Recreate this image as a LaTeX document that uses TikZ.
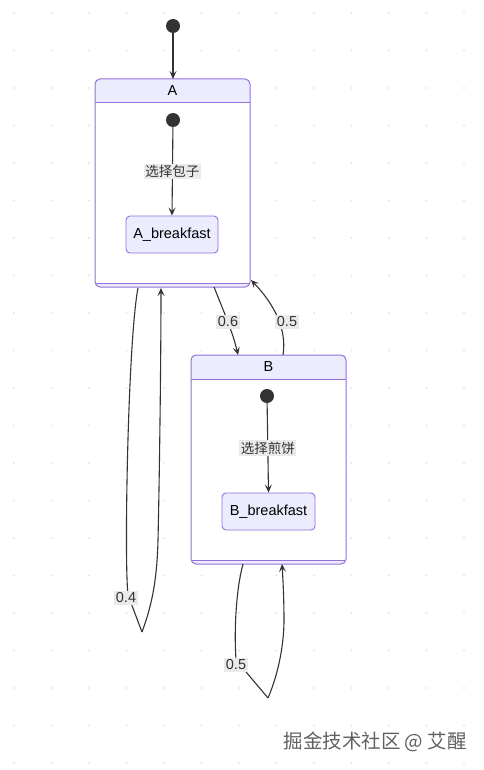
\documentclass[tikz,border=0pt]{standalone}
\usepackage{fontspec}
\setmainfont{Liberation Sans}
\newfontfamily\cjk{Noto Sans CJK SC}
\usetikzlibrary{arrows.meta,calc}
\definecolor{mstroke}{HTML}{9370DB}
\definecolor{boxfill}{HTML}{ECECFF}
\definecolor{ln}{HTML}{333333}
\definecolor{lblbg}{HTML}{EAEAEA}
\definecolor{dotc}{HTML}{E6E6E6}
\tikzset{
  arr/.style={draw=ln, line width=1.1pt, -{Stealth[length=8pt,width=7pt,inset=3.5pt]}},
  plainln/.style={draw=ln, line width=1.1pt},
  startdot/.style={circle, fill=ln, minimum size=14pt, inner sep=0pt},
  leaf/.style={draw=mstroke, fill=boxfill, rounded corners=4pt, line width=0.9pt, minimum height=37pt, inner sep=0pt, font=\fontsize{14.5}{16}\selectfont},
  lbl/.style={fill=lblbg, inner sep=1.5pt, font=\fontsize{14.5}{16}\selectfont, text=ln},
  clbl/.style={fill=lblbg, inner sep=1.5pt, font=\cjk\fontsize{13.5}{16}\selectfont, text=ln},
  hdr/.style={font=\fontsize{14.5}{16}\selectfont, text=black},
  frame/.style={draw=mstroke, line width=1pt, rounded corners=5pt},
  sep/.style={draw=mstroke, line width=1pt},
}
\begin{document}
\begin{tikzpicture}[x=1pt,y=-1pt]
\useasboundingbox (0,0) rectangle (483,770);
\fill[white] (0,0) rectangle (483,770);
% dot grid
\foreach \i in {0,...,12} {
  \foreach \j in {0,...,20} {
    \fill[dotc] ({14+37.5*\i},{13+37.5*\j}) circle (1.1pt);
  }
}
% composite A
\fill[white, rounded corners=5pt] (95,79) rectangle (250,287);
\begin{scope}
\clip[rounded corners=5pt] (95,79) rectangle (250,287);
\fill[boxfill] (95,79) rectangle (250,103);
\fill[boxfill] (95,283) rectangle (250,287);
\end{scope}
\draw[frame] (95,79) rectangle (250,287);
\draw[sep] (95,103) -- (250,103);
\draw[sep] (95,283) -- (250,283);
\node[hdr] (Ahdr) at (172.5,91) {A};
% composite B
\fill[white, rounded corners=5pt] (191,355) rectangle (346,564);
\begin{scope}
\clip[rounded corners=5pt] (191,355) rectangle (346,564);
\fill[boxfill] (191,355) rectangle (346,379);
\fill[boxfill] (191,560) rectangle (346,564);
\end{scope}
\draw[frame] (191,355) rectangle (346,564);
\draw[sep] (191,379) -- (346,379);
\draw[sep] (191,560) -- (346,560);
\node[hdr] (Bhdr) at (268.5,367) {B};
% anchors for composites
\coordinate (Atop) at (173,79);
% start
\node[startdot] (s0) at (173,26) {};
\draw[arr] (s0) -- (Atop);
% inner A
\node[startdot] (sa) at (173,120) {};
\node[leaf, minimum width=92pt] (ab) at (172,234.5) {A\_breakfast};
\draw[arr] (sa) -- (ab.north) node[pos=0.5, clbl] (la) {选择包子};
% inner B
\node[startdot] (sb) at (267,396) {};
\node[leaf, minimum width=93pt] (bb) at (268.5,511.5) {B\_breakfast};
\draw[arr] (sb) -- (bb.north) node[pos=0.5, clbl] (lb) {选择煎饼};
% A -> B 0.6
\coordinate (a6s) at (214,287);
\coordinate (a6e) at (238,355);
\draw[arr] (a6s) .. controls (224,312) and (233,333) .. (a6e);
\node[lbl] (l06) at (228,322) {0.6};
% B -> A 0.5
\coordinate (b5s) at (283,355);
\coordinate (b5e) at (251,280);
\draw[arr] (b5s) .. controls (287,330) and (275,305) .. (b5e);
\node[lbl] (l05a) at (287,322) {0.5};
% self loop A 0.4
\coordinate (a4s) at (138,288);
\coordinate (a4b) at (142,632);
\coordinate (a4e) at (161,288);
\draw[plainln] (a4s) .. controls (128,340) and (124,560) .. (128,595) -- (a4b);
\draw[arr] (a4b) .. controls (152,605) and (157,580) .. (158,540) .. controls (160,450) and (161,340) .. (a4e);
\node[lbl] (l04) at (126,598) {0.4};
% self loop B 0.5
\coordinate (b5ls) at (243,564);
\coordinate (b5lb) at (268,698);
\coordinate (b5le) at (282,564);
\draw[plainln] (b5ls) .. controls (236,590) and (234,630) .. (236,660) -- (b5lb);
\draw[arr] (b5lb) .. controls (280,670) and (284,640) .. (284,620) .. controls (284,600) and (283,580) .. (b5le);
\node[lbl] (l05b) at (236,665) {0.5};
% watermark
\node[font=\cjk\fontsize{19.5}{21}\selectfont, text=black!62, anchor=east, inner sep=0pt] (wm) at (467,742) {掘金技术社区 @ 艾醒};
\end{tikzpicture}
\end{document}
